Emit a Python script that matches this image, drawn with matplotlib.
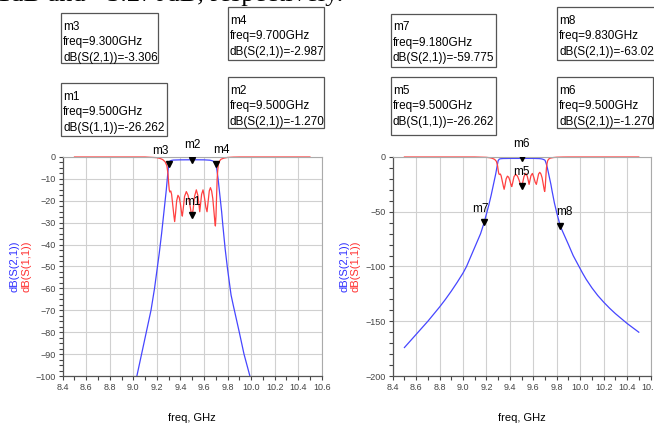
import numpy as np
import matplotlib.pyplot as plt
from matplotlib.ticker import MultipleLocator, FormatStrFormatter
from matplotlib.patches import Rectangle

plt.rcParams['font.family'] = ['Liberation Sans', 'DejaVu Sans']

# S21 of the filter (GHz, dB)
s21_freq = [8.5, 8.55, 8.6, 8.65, 8.7, 8.75, 8.8, 8.85, 8.9, 8.95, 9.0, 9.03,
            9.05, 9.07, 9.09, 9.11, 9.13, 9.15, 9.18, 9.2, 9.22, 9.24, 9.26,
            9.28, 9.29, 9.30, 9.31, 9.32, 9.34, 9.40, 9.50, 9.60, 9.65, 9.67,
            9.68, 9.69, 9.70, 9.71, 9.72, 9.73, 9.74, 9.75, 9.76, 9.78, 9.80,
            9.815, 9.83, 9.85, 9.875, 9.90, 9.94, 9.99, 10.02, 10.05, 10.1,
            10.15, 10.2, 10.25, 10.3, 10.35, 10.4, 10.45, 10.5]
s21_db = [-174, -168, -162, -156, -150, -143.5, -137, -130, -122.5, -114.5, -106, -100,
          -95, -90, -85, -80, -75, -70, -60, -52, -44, -35, -25,
          -15, -9, -3.3, -1.9, -1.6, -1.4, -1.3, -1.27, -1.3, -1.45, -1.7,
          -2.0, -2.4, -3.0, -6, -10, -15, -20, -25, -31, -42, -51,
          -57, -63, -68, -74, -80, -90, -100, -106, -111.5, -119.5,
          -126.5, -132.5, -138, -143, -147.5, -152, -156, -160]

# S11 of the filter
s11_freq = [8.5, 9.1, 9.2, 9.23, 9.25, 9.27, 9.285, 9.295, 9.30, 9.305, 9.31,
            9.318, 9.325, 9.335, 9.345, 9.351, 9.358, 9.368, 9.379, 9.39, 9.40,
            9.41, 9.416, 9.423, 9.435, 9.45, 9.465, 9.478, 9.49, 9.50, 9.508,
            9.52, 9.535, 9.548, 9.558, 9.564, 9.57, 9.58, 9.592, 9.604, 9.616,
            9.626, 9.634, 9.645, 9.655, 9.665, 9.675, 9.685, 9.693, 9.697,
            9.702, 9.707, 9.712, 9.717, 9.722, 9.73, 9.745, 9.77, 9.8, 9.85,
            9.9, 10.5]
s11_db = [0, 0, -0.3, -0.7, -1.2, -2.2, -4, -8, -12, -15, -16,
          -15.5, -17, -22, -27, -29.5, -26, -20, -17.5, -18.5, -21.5,
          -25.5, -27, -24, -18, -15.8, -17.5, -21, -25, -26.3, -24,
          -18, -15, -17.5, -22, -25, -22, -17, -15, -18.5, -23,
          -25, -21, -15.5, -14, -15.5, -19, -25, -30, -31.5,
          -27, -18, -10, -6, -3.5, -2, -1.0, -0.5, -0.2, -0.05,
          0, 0]

# markers: name, freq, value
left_markers = [('m3', 9.3, -3.306), ('m2', 9.5, -1.270), ('m4', 9.7, -2.987), ('m1', 9.5, -26.262)]
right_markers = [('m6', 9.5, -1.270), ('m5', 9.5, -26.262), ('m7', 9.18, -59.775), ('m8', 9.83, -63.021)]

left_boxes = [('m3', '9.300', 'dB(S(2,1))=-3.306'), ('m4', '9.700', 'dB(S(2,1))=-2.987'),
              ('m1', '9.500', 'dB(S(1,1))=-26.262'), ('m2', '9.500', 'dB(S(2,1))=-1.270')]
right_boxes = [('m7', '9.180', 'dB(S(2,1))=-59.775'), ('m8', '9.830', 'dB(S(2,1))=-63.021'),
               ('m5', '9.500', 'dB(S(1,1))=-26.262'), ('m6', '9.500', 'dB(S(2,1))=-1.270')]

W, H = 654, 423
fig = plt.figure(figsize=(W / 100, H / 100), dpi=100)


def px(x0, y0, x1, y1):
    return [x0 / W, 1 - y1 / H, (x1 - x0) / W, (y1 - y0) / H]


def setup(ax, ymin, ymajor, yminor):
    ax.plot(s21_freq, s21_db, color='#4646ff', lw=0.9)
    ax.plot(s11_freq, s11_db, color='#ff4040', lw=0.9, clip_on=False)
    ax.set_xlim(8.4, 10.6)
    ax.set_ylim(ymin, 0)
    ax.xaxis.set_major_locator(MultipleLocator(0.2))
    ax.xaxis.set_minor_locator(MultipleLocator(0.1))
    ax.xaxis.set_major_formatter(FormatStrFormatter('%.1f'))
    ax.yaxis.set_major_locator(MultipleLocator(ymajor))
    ax.yaxis.set_minor_locator(MultipleLocator(yminor))
    ax.tick_params(which='both', direction='out', length=3, width=0.8, color='#444',
                   labelsize=6.5, labelcolor='#444', pad=2)
    ax.grid(True, which='major', color='#d0d0d0', lw=0.8)
    ax.set_axisbelow(True)
    for s in ['left', 'bottom']:
        ax.spines[s].set_color('#555')
        ax.spines[s].set_linewidth(0.9)
    for s in ['top', 'right']:
        ax.spines[s].set_color('#aaaaaa')
        ax.spines[s].set_linewidth(0.8)
    ax.set_xlabel('freq, GHz', fontsize=8, labelpad=15)


def markers(ax, mlist, offsets):
    for (name, f, v), (dx, dy) in zip(mlist, offsets):
        ax.plot(f, v, marker='v', color='black', markersize=5, linestyle='none', zorder=5)
        ax.annotate(name, (f, v), xytext=(dx, dy), textcoords='offset points',
                    ha='center', va='bottom', fontsize=8.5)


def boxes(blist, rects):
    for (name, fr, val), (x0, y0, x1, y1) in zip(blist, rects):
        fig.patches.append(Rectangle((x0 / W, 1 - y1 / H), (x1 - x0) / W, (y1 - y0) / H,
                                     transform=fig.transFigure, fill=False,
                                     edgecolor='#555', lw=0.9))
        lines = [name, 'freq=' + fr + 'GHz', val]
        for i, t in enumerate(lines):
            fig.text((x0 + 2) / W, 1 - (y0 + 16.5 + 15.5 * i) / H, t, fontsize=8.5,
                     va='baseline', ha='left')


ax1 = fig.add_axes(px(62.7, 157, 321.7, 376))
setup(ax1, -100, 10, 2.5)
markers(ax1, left_markers, [(-6, 5.5), (0, 6), (4, 5.5), (0, 5)])

ax2 = fig.add_axes(px(392.7, 157, 650.5, 376))
setup(ax2, -200, 50, 10)
markers(ax2, right_markers, [(0, 6), (0, 5.5), (-3, 5.5), (3, 6)])

ymid = 0.5 * (1 - 157 / H + 1 - 376 / H)
for xb, xr in [(15, 26.5), (344, 355.5)]:
    fig.text(xb / W, ymid, 'dB(S(2,1))', rotation=90, color='#3030ff',
             fontsize=8, ha='center', va='center')
    fig.text(xr / W, ymid, 'dB(S(1,1))', rotation=90, color='#ff3030',
             fontsize=8, ha='center', va='center')

boxes(left_boxes, [(61, 13, 158, 63), (228, 7, 324, 60), (61, 83, 167, 136), (228, 77, 324, 128)])
boxes(right_boxes, [(391, 14, 496, 67), (557, 7, 660, 60), (391, 77, 496, 135), (557, 77, 653, 128)])

# caption line cut off at the top of the figure
fig.text(-0.005, 1 - 1.5 / H, '1dB and \u22123.270dB, respectively.', fontsize=19,
         family=['Liberation Serif', 'DejaVu Serif'], va='baseline', ha='left')

fig.savefig('out.png', dpi=100)
